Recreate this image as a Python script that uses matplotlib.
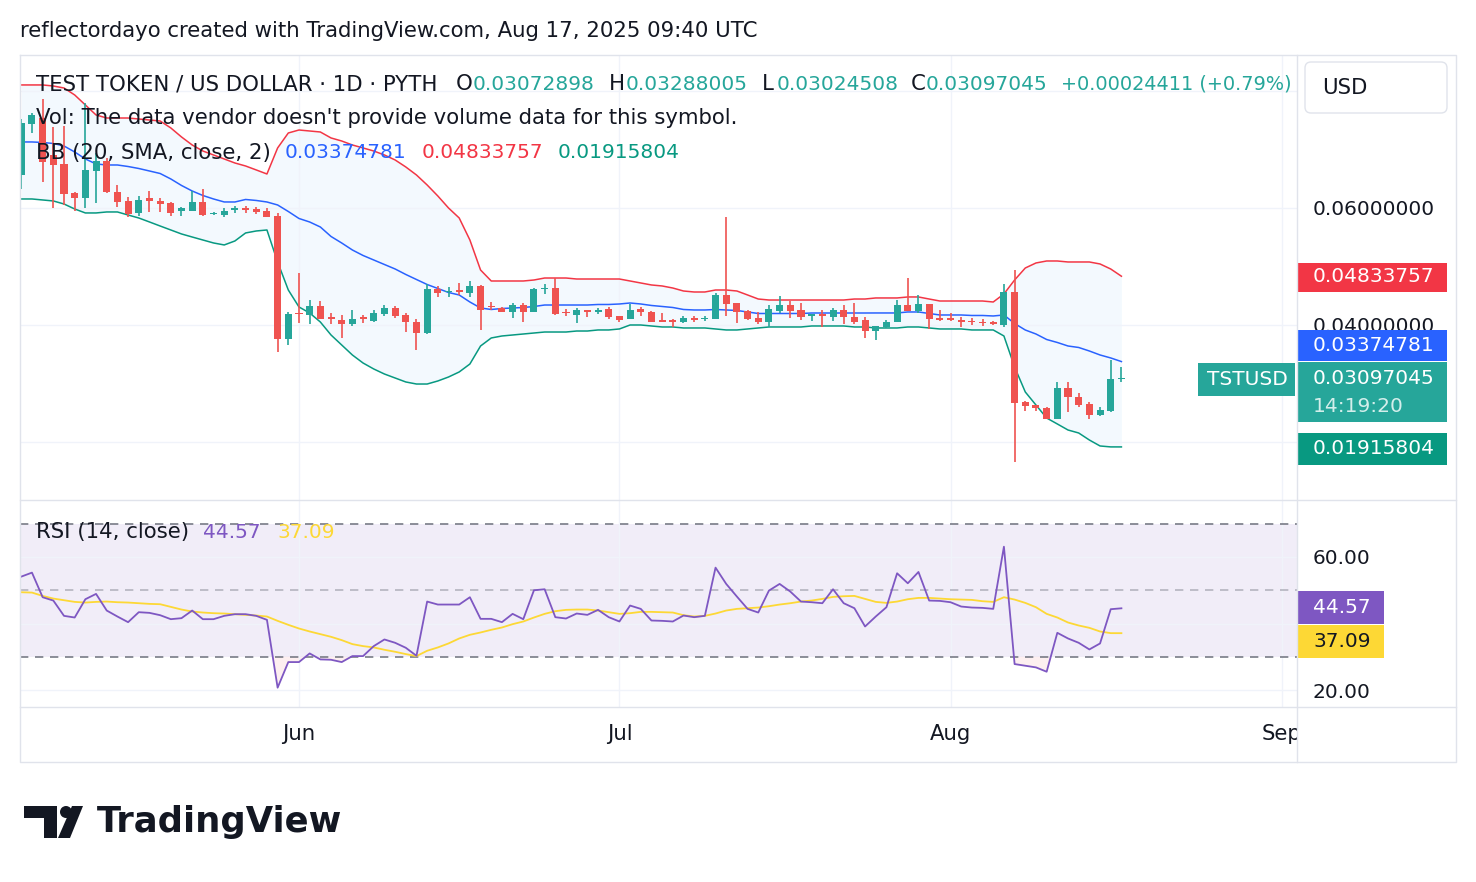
import matplotlib
matplotlib.use("Agg")
import matplotlib.pyplot as plt
import matplotlib.dates as mdates
from matplotlib.patches import Rectangle, Polygon, Circle, FancyBboxPatch
from matplotlib.lines import Line2D
from matplotlib.transforms import IdentityTransform
import numpy as np
import pandas as pd

# daily candles, May 6 - Aug 17 2025
dates = pd.date_range("2025-05-06", "2025-08-17", freq="D")

opens = [0.06564, 0.07436, 0.07538, 0.06906, 0.06752, 0.06256, 0.0617, 0.06632, 0.06803, 0.06273,
         0.06119, 0.05914, 0.0617, 0.06119, 0.06085, 0.05948, 0.05948, 0.06102, 0.05897, 0.0588,
         0.05966, 0.06, 0.05983, 0.05948, 0.05863, 0.03761, 0.04205, 0.04171, 0.04325, 0.04137,
         0.04085, 0.04017, 0.04137, 0.04068, 0.04188, 0.04291, 0.04171, 0.04051, 0.03863, 0.04615,
         0.04564, 0.04598, 0.04547, 0.04667, 0.04325, 0.04291, 0.04222, 0.04342, 0.04222, 0.04615,
         0.04632, 0.04222, 0.04171, 0.04256, 0.04222, 0.04273, 0.04154, 0.04103, 0.04273, 0.04222,
         0.04085, 0.04085, 0.04051, 0.0412, 0.04103, 0.04103, 0.04513, 0.04376, 0.04239, 0.0412,
         0.04051, 0.04239, 0.04342, 0.04256, 0.04154, 0.04188, 0.04137, 0.04256, 0.04137, 0.04085,
         0.03897, 0.03966, 0.04051, 0.04342, 0.04239, 0.04359, 0.0412, 0.0412, 0.04085, 0.04068,
         0.04051, 0.04051, 0.04, 0.04564, 0.02684, 0.02633, 0.02581, 0.02393, 0.02923, 0.02769,
         0.0265, 0.02462, 0.0253, 0.03072898]
highs = [0.07521, 0.07623, 0.07862, 0.07385, 0.07402, 0.06273, 0.07794, 0.0694, 0.06854, 0.06393,
         0.06188, 0.06205, 0.0629, 0.0617, 0.06102, 0.06017, 0.0629, 0.06325, 0.05931, 0.06,
         0.06034, 0.06034, 0.06017, 0.06, 0.05914, 0.04222, 0.04889, 0.04427, 0.0441, 0.04205,
         0.04171, 0.04256, 0.04171, 0.04256, 0.04342, 0.04325, 0.04205, 0.04103, 0.04701, 0.04667,
         0.0465, 0.04718, 0.04752, 0.04684, 0.04393, 0.04308, 0.0438, 0.0438, 0.04632, 0.04701,
         0.04803, 0.04273, 0.04291, 0.04256, 0.04291, 0.04308, 0.04154, 0.04359, 0.04308, 0.04239,
         0.04205, 0.04103, 0.04154, 0.04154, 0.04154, 0.04547, 0.05846, 0.04376, 0.04256, 0.04222,
         0.04342, 0.04496, 0.0441, 0.04376, 0.04188, 0.04256, 0.04291, 0.04342, 0.04376, 0.04137,
         0.03983, 0.04085, 0.04427, 0.04803, 0.04513, 0.04359, 0.04256, 0.04205, 0.04137, 0.0412,
         0.04103, 0.04068, 0.04701, 0.0494, 0.02701, 0.02633, 0.02598, 0.03026, 0.03026, 0.02838,
         0.02684, 0.02598, 0.03402, 0.03288005]
lows = [0.06325, 0.07282, 0.06444, 0.06, 0.06051, 0.05948, 0.06, 0.06085, 0.06256, 0.06017,
        0.05846, 0.05863, 0.05931, 0.05931, 0.05863, 0.05863, 0.0594, 0.05863, 0.05872, 0.05846,
        0.05914, 0.05914, 0.05897, 0.05838, 0.03539, 0.03658, 0.04034, 0.04017, 0.04094, 0.04017,
        0.03778, 0.03983, 0.04034, 0.04051, 0.04154, 0.0412, 0.0388, 0.03573, 0.03846, 0.04479,
        0.04479, 0.04513, 0.04479, 0.03915, 0.04256, 0.04214, 0.0412, 0.04051, 0.04214, 0.0453,
        0.04171, 0.04154, 0.04034, 0.04137, 0.04188, 0.04103, 0.04051, 0.04094, 0.04154, 0.04043,
        0.04043, 0.03966, 0.04034, 0.04051, 0.04068, 0.04094, 0.04154, 0.04034, 0.04085, 0.04017,
        0.03966, 0.04205, 0.0412, 0.04085, 0.04068, 0.03966, 0.04068, 0.04017, 0.04017, 0.03778,
        0.03744, 0.03949, 0.04043, 0.04231, 0.04205, 0.03932, 0.04068, 0.04068, 0.03966, 0.04,
        0.03983, 0.04, 0.03966, 0.01659, 0.0253, 0.0253, 0.02385, 0.02385, 0.02513, 0.02598,
        0.02393, 0.02444, 0.02521, 0.03024508]
closes = [0.07453, 0.07589, 0.06786, 0.06734, 0.06239, 0.0617, 0.06649, 0.06803, 0.06273, 0.06102,
          0.05897, 0.06137, 0.06119, 0.06068, 0.05914, 0.06, 0.06102, 0.0588, 0.05914, 0.05948,
          0.06, 0.05966, 0.05931, 0.05846, 0.03761, 0.04188, 0.04188, 0.04325, 0.04103, 0.04103,
          0.04017, 0.04103, 0.04103, 0.04205, 0.04291, 0.04154, 0.04051, 0.03863, 0.04615, 0.04547,
          0.04581, 0.04564, 0.04667, 0.04256, 0.04308, 0.04222, 0.04342, 0.04222, 0.04615, 0.04632,
          0.04188, 0.04205, 0.04256, 0.04222, 0.04256, 0.04137, 0.04085, 0.04256, 0.04222, 0.04051,
          0.04051, 0.04051, 0.0412, 0.04085, 0.0412, 0.04513, 0.04359, 0.04222, 0.04103, 0.04051,
          0.04273, 0.04342, 0.04239, 0.04137, 0.04188, 0.04154, 0.04256, 0.04137, 0.04051, 0.03897,
          0.03983, 0.04051, 0.04342, 0.04239, 0.04359, 0.04103, 0.04085, 0.04085, 0.04051, 0.04051,
          0.04034, 0.04017, 0.04564, 0.02667, 0.02616, 0.02581, 0.02393, 0.02923, 0.02769, 0.02633,
          0.02462, 0.02547, 0.03072634, 0.03097045]

# Bollinger Bands (20, 2)
bb_upper = [0.08103, 0.08103, 0.08103, 0.08085, 0.08051, 0.07932, 0.07761, 0.0759, 0.07538, 0.07538,
            0.07538, 0.07521, 0.07504, 0.07487, 0.07368, 0.07214, 0.07077, 0.06974, 0.06906, 0.06838,
            0.06769, 0.06718, 0.0665, 0.06581, 0.07026, 0.07282, 0.07333, 0.07316, 0.07299, 0.07197,
            0.07145, 0.07077, 0.07026, 0.06974, 0.06906, 0.06821, 0.06701, 0.06564, 0.06393, 0.06205,
            0.06, 0.05829, 0.05453, 0.0494, 0.04752, 0.04752, 0.04752, 0.04752, 0.04769, 0.04803,
            0.04803, 0.04803, 0.04786, 0.04786, 0.04786, 0.04786, 0.04786, 0.04752, 0.04718, 0.04684,
            0.04667, 0.04632, 0.04581, 0.04564, 0.04564, 0.04598, 0.04598, 0.04581, 0.04513, 0.04444,
            0.04427, 0.04427, 0.04427, 0.04427, 0.04427, 0.04427, 0.04427, 0.04427, 0.04444, 0.04444,
            0.04462, 0.04462, 0.04462, 0.04479, 0.04479, 0.04444, 0.0441, 0.0441, 0.0441, 0.0441,
            0.0441, 0.04393, 0.0453, 0.04769, 0.04974, 0.0506, 0.05094, 0.05094, 0.05077, 0.05077,
            0.05077, 0.05043, 0.04957, 0.04833757]
bb_lower = [0.06154, 0.06154, 0.06137, 0.0612, 0.06068, 0.05983, 0.05915, 0.05915, 0.05932, 0.05932,
            0.0588, 0.05829, 0.05761, 0.05692, 0.05624, 0.05556, 0.05504, 0.05453, 0.05402, 0.05368,
            0.05436, 0.05573, 0.05607, 0.05624, 0.05077, 0.04598, 0.04308, 0.04205, 0.04051, 0.03829,
            0.03658, 0.03487, 0.0335, 0.03248, 0.03162, 0.03094, 0.03026, 0.02991, 0.02991, 0.03043,
            0.03111, 0.03197, 0.03333, 0.03641, 0.03778, 0.03812, 0.03829, 0.03846, 0.03863, 0.0388,
            0.0388, 0.0388, 0.03897, 0.03897, 0.03915, 0.03915, 0.03932, 0.04, 0.04, 0.03983,
            0.03966, 0.03966, 0.03949, 0.03949, 0.03949, 0.03932, 0.03915, 0.03915, 0.03932, 0.03949,
            0.03966, 0.03966, 0.03966, 0.03966, 0.03983, 0.03983, 0.03983, 0.03983, 0.03966, 0.03966,
            0.03949, 0.03949, 0.03949, 0.03966, 0.03966, 0.03949, 0.03932, 0.03932, 0.03932, 0.03915,
            0.03915, 0.03915, 0.03812, 0.03282, 0.02855, 0.02632, 0.0241, 0.02308, 0.02205, 0.02154,
            0.02034, 0.01932, 0.01916, 0.01915804]

# RSI (14) and its 14-day MA
rsi = [54.1, 55.3, 47.9, 46.9, 42.3, 41.8, 47.3, 48.9, 43.9, 42.1,
       40.4, 43.4, 43.2, 42.5, 41.3, 41.6, 43.9, 41.3, 41.3, 42.3,
       42.8, 42.8, 42.3, 41.1, 20.7, 28.4, 28.4, 31.0, 29.2, 29.1,
       28.4, 30.2, 30.2, 33.2, 35.2, 34.2, 32.7, 30.3, 46.6, 45.7,
       45.7, 45.7, 47.9, 41.4, 41.4, 40.4, 42.9, 41.3, 50.0, 50.3,
       41.9, 41.5, 43.0, 42.6, 44.1, 41.9, 40.6, 45.4, 44.4, 40.9,
       40.8, 40.6, 42.4, 41.9, 42.3, 56.8, 51.9, 48.1, 44.4, 43.3,
       49.9, 51.9, 49.6, 46.6, 46.4, 46.1, 50.3, 46.1, 44.6, 39.1,
       42.1, 44.9, 55.1, 52.1, 55.5, 46.9, 46.8, 46.4, 45.1, 44.8,
       44.7, 44.4, 63.1, 27.8, 27.3, 26.8, 25.5, 37.2, 35.5, 34.2,
       32.2, 34.0, 44.3, 44.57]
rsi_ma = [49.4, 49.3, 48.3, 47.5, 47.0, 46.5, 46.3, 46.5, 46.6, 46.4,
          46.3, 46.1, 45.9, 45.8, 45.0, 44.2, 43.6, 43.3, 43.1, 43.0,
          42.8, 42.6, 42.4, 42.1, 40.8, 39.6, 38.5, 37.6, 36.8, 36.0,
          35.0, 33.8, 33.2, 32.8, 32.1, 31.5, 30.8, 30.2, 31.8, 32.8,
          34.0, 35.5, 36.6, 37.3, 38.1, 38.8, 39.8, 40.6, 41.8, 42.9,
          43.7, 44.1, 44.2, 44.2, 43.9, 43.4, 42.9, 43.1, 43.5, 43.5,
          43.4, 43.3, 42.5, 42.1, 42.3, 43.0, 43.9, 44.4, 44.6, 44.8,
          45.2, 45.7, 46.1, 46.6, 46.9, 47.4, 48.0, 48.2, 48.3, 47.4,
          46.5, 46.2, 46.6, 47.3, 47.7, 47.7, 47.5, 47.3, 47.2, 47.1,
          46.7, 46.5, 47.9, 47.2, 46.2, 44.9, 42.9, 41.8, 40.3, 39.4,
          38.7, 37.6, 37.1, 37.09]

month_starts = pd.to_datetime(["2025-06-01", "2025-07-01", "2025-08-01", "2025-09-01"])
month_names = ["Jun", "Jul", "Aug", "Sep"]
price_grid = [0.02, 0.04, 0.06, 0.08]
price_labels = ["", "0.04000000", "0.06000000", ""]   # 0.02 / 0.08 sit under label boxes
rsi_grid = [20, 40, 60]
rsi_labels = ["20.00", "", "60.00"]

W, H = 1476, 882
PX = IdentityTransform()
FS = 14.5      # numbers
FT = 15.3      # words
TXT = "#131722"
GREEN = "#26a69a"
RED = "#ef5350"
BORDER = "#e0e3eb"
GRID = "#f0f3fa"

plt.rcParams["font.family"] = "DejaVu Sans"

fig = plt.figure(figsize=(W / 100, H / 100), dpi=100)
fig.patch.set_facecolor("white")


def rect(x0, y0, x1, y1):
    return [x0 / W, 1 - y1 / H, (x1 - x0) / W, (y1 - y0) / H]


def ptext(x, y, s, **kw):
    kw.setdefault("va", "center")
    kw.setdefault("color", TXT)
    kw.setdefault("fontsize", FS)
    return fig.text(x, H - y, s, transform=PX, **kw)


def pbox(x0, y0, x1, y1, color):
    fig.add_artist(Rectangle((x0, H - y1), x1 - x0, y1 - y0, transform=PX,
                             facecolor=color, edgecolor="none"))


def pline(xs, ys):
    fig.add_artist(Line2D(xs, [H - y for y in ys], transform=PX, color=BORDER, lw=1))


x = mdates.date2num(dates)
xlim = (x[0] - 0.12, x[0] + 119.44)
mticks = mdates.date2num(month_starts)

o, h, l, c = map(np.array, (opens, highs, lows, closes))
up_ = np.array(bb_upper)
lo_ = np.array(bb_lower)
bb_mid = (up_ + lo_) / 2
col = np.where(c >= o, GREEN, RED)

# ---- price pane ----
ax = fig.add_axes(rect(20, 55, 1297, 500))
ax.fill_between(x, lo_, up_, color="#2196f3", alpha=0.05, lw=0)
ax.plot(x, bb_mid, color="#2962ff", lw=1.1)
ax.plot(x, up_, color="#f23645", lw=1.1)
ax.plot(x, lo_, color="#089981", lw=1.1)
ax.vlines(x, l, h, colors=col, lw=1.2, zorder=3)
body = np.maximum(np.abs(c - o), 0.00018)
ax.bar(x, body, bottom=(o + c) / 2 - body / 2, width=0.66, color=col, lw=0, zorder=4)
ax.set_xlim(xlim)
ax.set_ylim(0.010085, 0.08615)
ax.set_yticks(price_grid)
ax.set_yticklabels(price_labels)
ax.yaxis.tick_right()
ax.set_xticks(mticks)
ax.tick_params(axis="x", labelbottom=False, length=0)
ax.tick_params(axis="y", length=0, pad=11.5, labelsize=FS, labelcolor=TXT)
ax.grid(color=GRID, lw=1)
for s in ax.spines.values():
    s.set_visible(False)

# ---- RSI pane ----
ax_rsi = fig.add_axes(rect(20, 500, 1297, 707))
r = np.array(rsi)
ax_rsi.axhspan(30, 70, color="#7e57c2", alpha=0.1, lw=0)
for lvl, a in ((70, 1.0), (50, 0.5), (30, 1.0)):
    ax_rsi.axhline(lvl, color="#787b86", lw=1.2, ls=(0, (5, 4)), alpha=a)
ax_rsi.fill_between(x, r, 30, where=r < 30, interpolate=True, color="#f23645", alpha=0.08, lw=0)
ax_rsi.plot(x, rsi_ma, color="#fdd835", lw=1.3)
ax_rsi.plot(x, r, color="#7e57c2", lw=1.3)
ax_rsi.set_xlim(xlim)
ax_rsi.set_ylim(14.89, 77.14)
ax_rsi.set_yticks(rsi_grid)
ax_rsi.set_yticklabels(rsi_labels)
ax_rsi.yaxis.tick_right()
ax_rsi.set_xticks(mticks)
ax_rsi.tick_params(axis="x", labelbottom=False, length=0)
ax_rsi.tick_params(axis="y", length=0, pad=11.5, labelsize=FS, labelcolor=TXT)
ax_rsi.grid(color=GRID, lw=1)
for s in ax_rsi.spines.values():
    s.set_visible(False)

# ---- time scale ----
ax_t = fig.add_axes(rect(20, 707, 1297, 762))
ax_t.set_xlim(xlim)
ax_t.set_ylim(0, 1)
ax_t.axis("off")
for mx, name in zip(mticks, month_names):
    ax_t.text(mx, 0.5, name, ha="center", va="center", fontsize=FT, color=TXT, clip_on=True)

# ---- frame ----
pline([20, 1456, 1456, 20, 20], [55, 55, 762, 762, 55])
pline([20, 1456], [500, 500])
pline([20, 1456], [707, 707])
pline([1297, 1297], [55, 762])

# ---- header / legends ----
ptext(20, 31, "reflectordayo created with TradingView.com, Aug 17, 2025 09:40 UTC", fontsize=FT)
chg = c[-1] - c[-2]
ptext(36, 84, "TEST TOKEN / US DOLLAR · 1D · PYTH", fontsize=FT)
for lab, lx, val, vx in (("O", 456, o[-1], 473), ("H", 609, h[-1], 626),
                          ("L", 762, l[-1], 777), ("C", 911, c[-1], 926)):
    ptext(lx, 84, lab, fontsize=FT)
    ptext(vx, 84, f"{val:.8f}", color=GREEN)
ptext(1061, 84, f"+{chg:.8f} (+{chg / c[-2] * 100:.2f}%)", color=GREEN, fontsize=13.9)
ptext(36, 118, "Vol: The data vendor doesn't provide volume data for this symbol.", fontsize=FT)
ptext(36, 153, "BB (20, SMA, close, 2)", fontsize=FT)
ptext(285, 153, f"{bb_mid[-1]:.8f}", color="#2962ff")
ptext(422, 153, f"{up_[-1]:.8f}", color="#f23645")
ptext(558, 153, f"{lo_[-1]:.8f}", color="#089981")
ptext(36, 532, "RSI (14, close)", fontsize=FT)
ptext(203, 532, f"{rsi[-1]:.2f}", color="#7e57c2")
ptext(277, 532, f"{rsi_ma[-1]:.2f}", color="#fdd835")

# ---- price scale labels ----
fig.add_artist(FancyBboxPatch((1305, H - 113), 142, 51, boxstyle="round,pad=0,rounding_size=6",
                              transform=PX, facecolor="white", edgecolor=BORDER, lw=1))
ptext(1322, 88, "USD", fontsize=FT)
pbox(1298, 263, 1447, 292, "#f23645")
ptext(1313, 277, f"{up_[-1]:.8f}", color="white")
pbox(1298, 330, 1447, 361, "#2962ff")
ptext(1313, 345.5, f"{bb_mid[-1]:.8f}", color="white")
pbox(1298, 362, 1447, 422, GREEN)
ptext(1313, 379, f"{c[-1]:.8f}", color="white")
ptext(1313, 407, "14:19:20", color="#d3eeeb")
pbox(1198, 363, 1295, 396, GREEN)
ptext(1247, 379.5, "TSTUSD", color="white", ha="center")
pbox(1298, 433, 1447, 465, "#089981")
ptext(1313, 449, f"{lo_[-1]:.8f}", color="white")
pbox(1298, 591, 1384, 624, "#7e57c2")
ptext(1313, 607.5, f"{rsi[-1]:.2f}", color="white")
pbox(1298, 625, 1384, 658, "#fdd835")
ptext(1313, 641.5, f"{rsi_ma[-1]:.2f}", color=TXT)

# ---- TradingView logo ----
fig.add_artist(Polygon([(24, H - 806), (57, H - 806), (57, H - 838), (44, H - 838),
                        (44, H - 818), (24, H - 818)], closed=True, transform=PX,
                       facecolor=TXT, edgecolor="none"))
fig.add_artist(Circle((66, H - 812), 6, transform=PX, facecolor=TXT, edgecolor="none"))
fig.add_artist(Polygon([(72, H - 806), (83, H - 806), (70, H - 838), (58, H - 838)],
                       closed=True, transform=PX, facecolor=TXT, edgecolor="none"))
ptext(97, 822, "TradingView", fontsize=25.5, fontweight="bold")

fig.savefig("out.png", dpi=100)
